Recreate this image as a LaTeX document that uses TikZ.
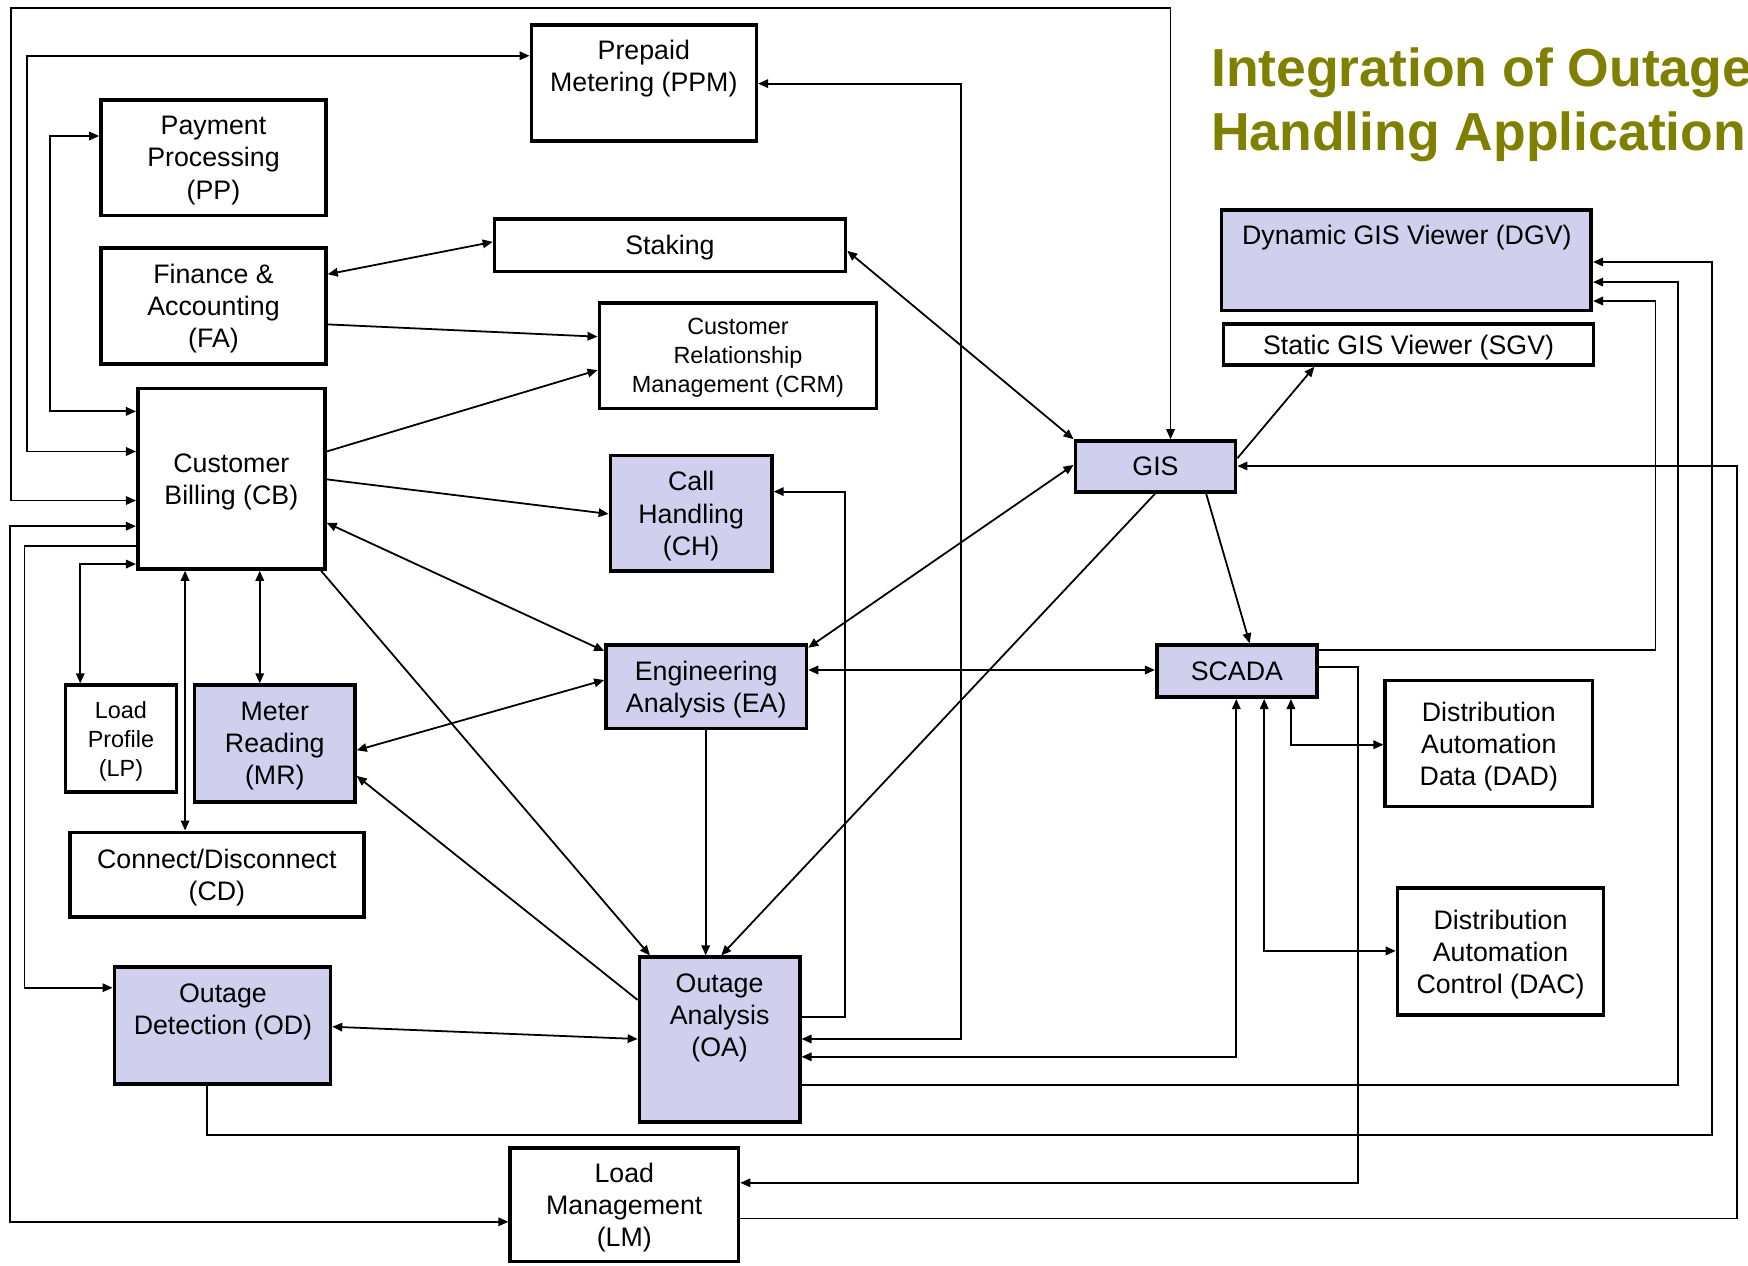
\documentclass[tikz,border=0pt]{standalone}
\usepackage{fontspec}
\setmainfont{Liberation Sans}
\usetikzlibrary{arrows.meta}
\definecolor{lav}{RGB}{208,208,238}
\definecolor{olivet}{RGB}{128,128,0}
% #1 style, #2 name, #3 x1, #4 y1, #5 x2, #6 y2, #7 text
\newcommand\mkbox[7]{%
  \node[#1, minimum width={(#5-#3-3.2)*0.5pt}, minimum height={(#6-#4-3.2)*0.5pt}]
    (#2) at ({(#3+#5)/2},{(#4+#6)/2}) {#7};}
\begin{document}
\begin{tikzpicture}[x=0.5pt,y=-0.5pt,
  stdbox/.style={draw,line width=1.6pt,inner sep=1pt,align=center,text depth=0pt,
    font=\fontsize{12}{14.4}\selectfont},
  hlbox/.style={stdbox,fill=lav},
  smalltext/.style={font=\fontsize{10.5}{13}\selectfont},
  txt/.style={align=center,inner sep=0pt,font=\fontsize{12}{14.4}\selectfont},
  con/.style={line width=0.8pt},
  arr/.style={-{Triangle[length=4.5pt,width=3.8pt]}},
  biarr/.style={{Triangle[length=4.5pt,width=3.8pt]}-{Triangle[length=4.5pt,width=3.8pt]}},
  titletext/.style={align=left,inner sep=0pt,text=olivet,
    font=\fontsize{24}{28.9}\selectfont\bfseries}]
\useasboundingbox (0,0) rectangle (1568,1135);
\fill[white] (0,0) rectangle (1568,1135);

% ---------- boxes ----------
\mkbox{stdbox}{ppm}{475}{21}{680}{128}{}
\node[txt] (ppmt) at (577.5,61.5) {Prepaid\\Metering (PPM)};
\mkbox{stdbox}{pp}{89}{88}{294}{195}{Payment\\Processing\\(PP)}
\mkbox{stdbox}{fa}{89}{221}{294}{328}{Finance \&\\Accounting\\(FA)}
\mkbox{stdbox}{staking}{442}{195}{760}{245}{Staking}
\mkbox{stdbox,smalltext}{crm}{536}{270}{788}{368}{Customer\\Relationship\\Management (CRM)}
\mkbox{stdbox}{cb}{122}{347}{293}{512}{Customer\\Billing (CB)}
\mkbox{hlbox}{ch}{546}{407}{694}{514}{Call\\Handling\\(CH)}
\mkbox{hlbox}{ea}{542}{577}{725}{655}{Engineering\\Analysis (EA)}
\mkbox{hlbox}{gis}{963}{394}{1110}{443}{GIS}
\mkbox{hlbox}{scada}{1036}{577}{1183}{627}{SCADA}
\mkbox{stdbox}{dad}{1241}{609}{1430}{725}{Distribution\\Automation\\Data (DAD)}
\mkbox{hlbox}{dgv}{1094}{187}{1429}{280}{}
\node[txt] (dgvt) at (1262,213) {Dynamic GIS Viewer (DGV)};
\mkbox{stdbox}{sgv}{1096}{289}{1431}{329}{Static GIS Viewer (SGV)}
\mkbox{stdbox,smalltext}{lp}{57}{613}{160}{712}{Load\\Profile\\(LP)}
\mkbox{hlbox}{mr}{173}{613}{320}{721}{Meter\\Reading\\(MR)}
\mkbox{stdbox}{cd}{61}{745}{328}{824}{Connect/Disconnect\\(CD)}
\mkbox{hlbox}{od}{101}{866}{298}{974}{}
\node[txt] (odt) at (200,907.5) {Outage\\Detection (OD)};
\mkbox{hlbox}{oa}{572}{857}{719}{1008}{}
\node[txt] (oat) at (645.5,913) {Outage\\Analysis\\(OA)};
\mkbox{stdbox}{lm}{456}{1028}{664}{1133}{Load\\Management\\(LM)}
\mkbox{stdbox}{dac}{1252}{795}{1440}{912}{Distribution\\Automation\\Control (DAC)}

\node[titletext,anchor=north west] (title) at (1086,42) {Integration of Outage\\Handling Applications};

% ---------- connectors ----------
% left side feeders into CB
\draw[con,biarr] (cb.west |- 0,449) -| (10,7) -| (gis.north -| 1050,0);
\draw[con,biarr] (cb.west |- 0,405) -| (24,50) -- (ppm.west |- 0,50);
\draw[con,biarr] (cb.west |- 0,369) -| (45,122) -- (pp.west |- 0,122);
\draw[con,biarr] (cb.west |- 0,472) -| (9,1096) -- (lm.west |- 0,1096);
\draw[con,arr] (cb.west |- 0,490) -| (22,886) -- (od.west |- 0,886);
\draw[con,biarr] (cb.west |- 0,506) -| (lp.north -| 72,0);
\draw[con,biarr] (cb.south -| 166,0) -- (cd.north -| 166,0);
\draw[con,biarr] (cb.south -| 233,0) -- (mr.north -| 233,0);

% diagonals
\draw[con,arr] (cb.east |- 0,405) -- (crm.west |- 0,332);
\draw[con,arr] (fa.east |- 0,291) -- (crm.west |- 0,302);
\draw[con,biarr] (fa.east |- 0,246) -- (staking.west |- 0,217);
\draw[con,arr] (cb.east |- 0,430) -- (ch.west |- 0,461);
\draw[con,biarr] (cb.east |- 0,469) -- (ea.west |- 0,584);
\draw[con,arr] (cb.south -| 288,0) -- (oa.north -| 583,0);
\draw[con,biarr] (mr.east |- 0,673) -- (ea.west |- 0,610);
\draw[con,arr] (oa.west |- 0,897) -- (mr.east |- 0,696);
\draw[con,biarr] (od.east |- 0,921) -- (oa.west |- 0,932);
\draw[con,arr] (ea.south -| 633,0) -- (oa.north -| 633,0);
\draw[con,arr] (gis.south -| 1036,0) -- (oa.north -| 647,0);
\draw[con,biarr] (gis.west |- 0,417) -- (ea.east |- 0,581);
\draw[con,biarr] (staking.east |- 0,225) -- (gis.north west);
\draw[con,arr] (gis.east |- 0,411) -- (sgv.south -| 1179,0);
\draw[con,arr] (gis.south -| 1082,0) -- (scada.north -| 1121,0);
\draw[con,biarr] (ea.east |- 0,601) -- (scada.west |- 0,601);

% right side routing
\draw[con,arr] (lm.east |- 0,1093) -| (1558,418) -- (gis.east |- 0,418);
\draw[con,arr] (od.south -| 186,0) |- (1536,1018) |- (dgv.east |- 0,235);
\draw[con,arr] (oa.east |- 0,973) -| (1505,253) -- (dgv.east |- 0,253);
\draw[con,arr] (scada.east |- 0,583) -| (1485,270) -- (dgv.east |- 0,270);
\draw[con,arr] (scada.east |- 0,598) -| (1218,1061) -- (lm.east |- 0,1061);
\draw[con,biarr] (scada.south -| 1158,0) |- (dad.west |- 0,668);
\draw[con,biarr] (scada.south -| 1134,0) |- (dac.west |- 0,853);
\draw[con,biarr] (oa.east |- 0,948) -| (scada.south -| 1109,0);
\draw[con,biarr] (ppm.east |- 0,75) -| (862,932) -- (oa.east |- 0,932);
\draw[con,arr] (oa.east |- 0,912) -| (758,441) -- (ch.east |- 0,441);
\end{tikzpicture}
\end{document}
